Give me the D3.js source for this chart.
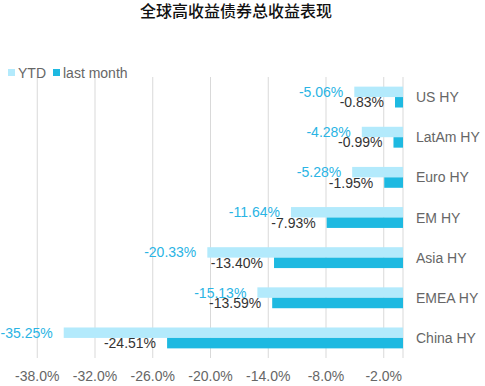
<!DOCTYPE html>
<html>
<head>
  <style>
    body { margin: 0; background: #fff; }
    text { font-family: "Liberation Sans", Arial, sans-serif; }
  </style>
  <script src="https://cdn.jsdelivr.net/npm/d3@7"></script>
</head>
<body>
<script>
  // Data
  const categories = ["US HY", "LatAm HY", "Euro HY", "EM HY", "Asia HY", "EMEA HY", "China HY"];
  const ytd = [-5.06, -4.28, -5.28, -11.64, -20.33, -15.13, -35.25];
  const lastMonth = [-0.83, -0.99, -1.95, -7.93, -13.40, -13.59, -24.51];
  const tickValues = [-38, -32, -26, -20, -14, -8, -2];
  const seriesNames = ["YTD", "last month"];

  const width = 485, height = 386;
  const colors = ["#b3eafc", "#1eb9e1"];
  const labelColors = ["#2ab4e4", "#333333"];

  const svg = d3.select("body").append("svg")
      .attr("width", width)
      .attr("height", height);

  const x = d3.scaleLinear().domain([-40, 0]).range([18, 403]);
  const y = d3.scaleBand().domain(categories).range([77, 358])
      .paddingInner(0.48).paddingOuter(0.24);
  const sub = d3.scaleBand().domain([0, 1]).range([0, y.bandwidth()]);

  // Gridlines
  svg.append("g")
    .selectAll("line")
    .data(tickValues)
    .enter().append("line")
      .attr("x1", d => x(d)).attr("x2", d => x(d))
      .attr("y1", 77).attr("y2", 358)
      .attr("stroke", "#d9d9d9").attr("stroke-width", 1);

  // Vertical axis line at zero
  svg.append("line")
      .attr("x1", x(0)).attr("x2", x(0))
      .attr("y1", 77).attr("y2", 358)
      .attr("stroke", "#d9d9d9");

  // Bottom tick labels
  svg.append("g")
    .selectAll("text")
    .data(tickValues)
    .enter().append("text")
      .attr("x", d => x(d))
      .attr("y", 381)
      .attr("text-anchor", "middle")
      .style("font-size", "14px")
      .attr("fill", "#666")
      .text(d => d.toFixed(1) + "%");

  // Bars
  const series = [ytd, lastMonth];
  series.forEach((vals, si) => {
    const g = svg.append("g");
    g.selectAll("rect")
      .data(vals)
      .enter().append("rect")
        .attr("x", d => x(d))
        .attr("width", d => x(0) - x(d))
        .attr("y", (d, i) => y(categories[i]) + sub(si))
        .attr("height", sub.bandwidth())
        .attr("fill", colors[si]);

    g.selectAll("text")
      .data(vals)
      .enter().append("text")
        .attr("x", d => x(d) - 11)
        .attr("y", (d, i) => y(categories[i]) + sub(si) + sub.bandwidth() / 2)
        .attr("dy", "0.36em")
        .attr("text-anchor", "end")
        .style("font-size", "14px")
        .attr("fill", labelColors[si])
        .text(d => d.toFixed(2) + "%");
  });

  // Category labels
  svg.append("g")
    .selectAll("text")
    .data(categories)
    .enter().append("text")
      .attr("x", 416)
      .attr("y", d => y(d) + y.bandwidth() / 2)
      .attr("dy", "0.36em")
      .style("font-size", "14px")
      .attr("fill", "#666")
      .text(d => d);

  // Legend
  const legendX = [8, 53];
  seriesNames.forEach((name, i) => {
    svg.append("rect")
        .attr("x", legendX[i]).attr("y", 69)
        .attr("width", 7).attr("height", 7)
        .attr("fill", colors[i]);
    svg.append("text")
        .attr("x", legendX[i] + 10).attr("y", 72.5)
        .attr("dy", "0.36em")
        .style("font-size", "14px")
        .attr("fill", "#666")
        .text(name);
  });

  // Title
  svg.append("text")
      .attr("x", 236)
      .attr("y", 17)
      .attr("text-anchor", "middle")
      .style("font-family", "'Noto Sans CJK SC', sans-serif")
      .style("font-size", "16px")
      .style("font-weight", "500")
      .attr("fill", "#111")
      .text("全球高收益债券总收益表现");
</script>
</body>
</html>
